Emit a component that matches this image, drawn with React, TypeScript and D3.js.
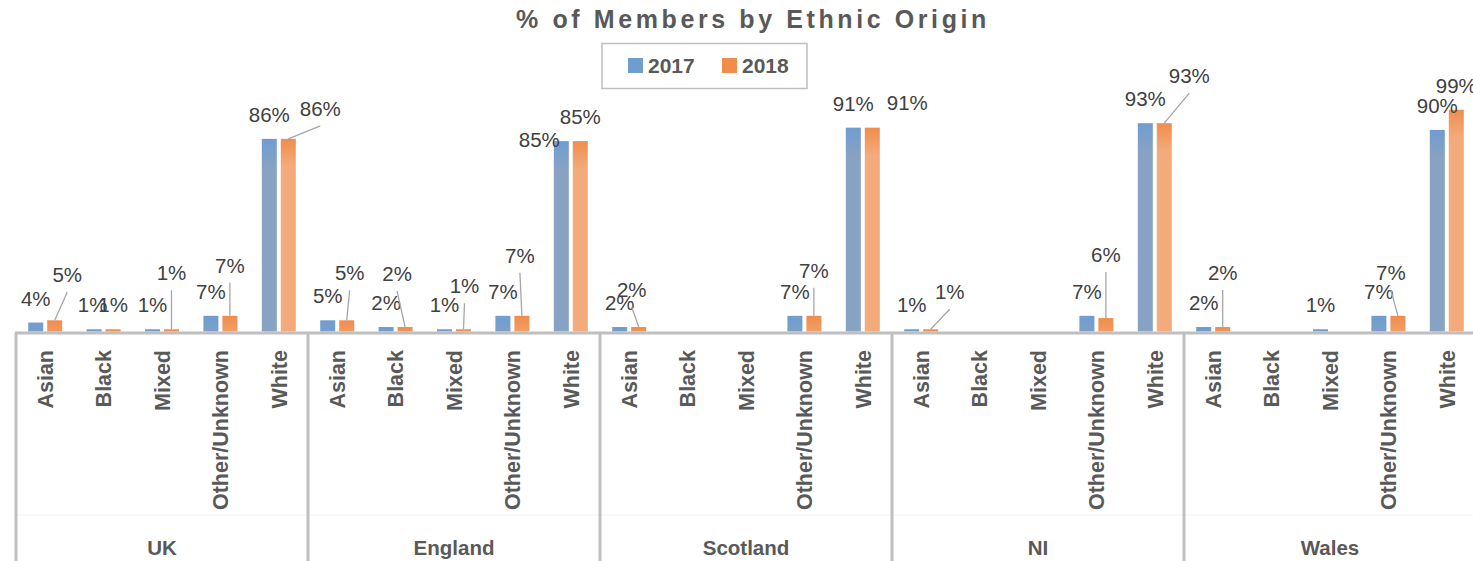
import React from 'react';
import * as d3 from 'd3';

const regions = ["UK", "England", "Scotland", "NI", "Wales"];
const ethnicities = ["Asian", "Black", "Mixed", "Other/Unknown", "White"];
const years = ["2017", "2018"];

// % per region, ethnicities in order; null = no bar / no label
const values2017 = [
  [4, 1, 1, 7, 86],
  [5, 2, 1, 7, 85],
  [2, null, null, 7, 91],
  [1, null, null, 7, 93],
  [2, null, 1, 7, 90]
];
const values2018 = [
  [5, 1, 1, 7, 86],
  [5, 2, 1, 7, 85],
  [2, null, null, 7, 91],
  [1, null, null, 6, 93],
  [2, null, null, 7, 99]
];

// labels dragged away from their bars in the original: [dx, dy, leader line]
const labelNudges: Record<string, [number, number, boolean?]> = {
  "UK|Asian|2018": [12.5, -38, true],
  "UK|Black|2017": [-1.5, -17],
  "UK|Mixed|2018": [0, -49, true],
  "UK|Other/Unknown|2018": [0, -43, true],
  "UK|White|2018": [32, -23, true],
  "England|Asian|2018": [3, -40, true],
  "England|Black|2018": [-8, -46, true],
  "England|Mixed|2018": [1, -36, true],
  "England|Other/Unknown|2018": [-2, -53, true],
  "England|White|2017": [-22, 6],
  "Scotland|Asian|2018": [-7, -30, true],
  "Scotland|Other/Unknown|2018": [0, -38, true],
  "Scotland|White|2018": [35, -18],
  "NI|Asian|2018": [19, -30, true],
  "NI|Other/Unknown|2018": [0, -56, true],
  "NI|White|2018": [25, -40, true],
  "Wales|Asian|2018": [0, -47, true],
  "Wales|Other/Unknown|2018": [-7, -36, true]
};

const W = 1473, H = 561;
const baseY = 331.5;
const axisGrey = "#bfbfbf";
const textGrey = "#595959";
const seriesColors = {
  "2017": { top: "#6f9dd0", body: "#87a2c2" },
  "2018": { top: "#f08d4c", body: "#f3ab7b" }
};
const font = "'Liberation Sans', Arial, sans-serif";

export default function App() {
  const x0 = d3.scaleBand().domain(regions).range([16, 16 + 292 * regions.length]);
  const x1 = d3.scaleBand().domain(ethnicities).range([0, x0.bandwidth()]);
  const cw = x1.bandwidth();
  const x2 = d3.scaleBand().domain(years).range([cw / 2 - 17, cw / 2 + 17]).paddingInner(0.21);
  const y = d3.scaleLinear().domain([0, 100]).range([baseY, 107.5]);

  const bars: any[] = [];
  regions.forEach((r, ri) => {
    ethnicities.forEach((e, ei) => {
      years.forEach((yr) => {
        const v = (yr === "2017" ? values2017 : values2018)[ri][ei];
        if (v == null) return;
        const x = (x0(r) as number) + (x1(e) as number) + (x2(yr) as number);
        bars.push({ key: `${r}|${e}|${yr}`, year: yr, v, x, top: y(v), cx: x + x2.bandwidth() / 2 });
      });
    });
  });

  return (
    <svg width={W} height={H} style={{ position: 'absolute', left: 0, top: 0, background: '#fff' }} fontFamily={font}>
      <defs>
        {bars.map((b, i) => (
          <linearGradient key={i} id={`g${i}`} gradientUnits="userSpaceOnUse" x1={0} x2={0} y1={b.top} y2={b.top + 28}>
            <stop offset="0" stopColor={seriesColors[b.year].top} />
            <stop offset="1" stopColor={seriesColors[b.year].body} />
          </linearGradient>
        ))}
      </defs>

      <text x={753} y={28} textAnchor="middle" fontSize={25} fontWeight="bold" fill={textGrey} letterSpacing={3.6}>
        % of Members by Ethnic Origin
      </text>

      {/* legend */}
      <rect x={602} y={43.5} width={205} height={45} fill="#fff" stroke={axisGrey} strokeWidth={1.5} />
      {years.map((yr, i) => (
        <g key={yr} transform={`translate(${628 + i * 94},58)`}>
          <rect width={15} height={15} fill={seriesColors[yr].top} />
          <text x={20} y={15} fontSize={21} fontWeight="bold" fill={textGrey}>{yr}</text>
        </g>
      ))}

      {/* bars */}
      {bars.map((b, i) => (
        <rect key={b.key} x={b.x} y={b.top} width={x2.bandwidth()} height={baseY - b.top} fill={`url(#g${i})`} />
      ))}

      {/* data labels */}
      {bars.map((b) => {
        const [dx, dy, leader] = labelNudges[b.key] || [0, -17, false];
        const lx = b.cx + dx, ly = b.top + dy;
        return (
          <g key={b.key}>
            {leader && <line x1={lx} y1={ly + 10} x2={b.cx} y2={b.top} stroke="#a6a6a6" strokeWidth={1.3} />}
            <text x={lx} y={ly} textAnchor="middle" fontSize={20.5} fill="#404040">{`${b.v}%`}</text>
          </g>
        );
      })}

      {/* multi-level category axis */}
      <line x1={15} x2={W} y1={515} y2={515} stroke="#f2f2f2" strokeWidth={1} />
      <line x1={15} x2={W} y1={333} y2={333} stroke={axisGrey} strokeWidth={3} />
      {regions.map((r) => {
        const gx = x0(r) as number;
        return (
          <g key={r}>
            <line x1={gx} x2={gx} y1={333} y2={H} stroke={axisGrey} strokeWidth={3} />
            {ethnicities.map((e) => {
              const cx = gx + (x1(e) as number) + cw / 2;
              return (
                <text key={e} transform={`translate(${cx},350) rotate(-90)`} dy="0.36em" textAnchor="end"
                  fontSize={21.5} fontWeight="bold" fill={textGrey}>{e}</text>
              );
            })}
            <text x={gx + x0.bandwidth() / 2} y={555} textAnchor="middle" fontSize={20.5} fontWeight="bold" fill={textGrey}>{r}</text>
          </g>
        );
      })}
    </svg>
  );
}
